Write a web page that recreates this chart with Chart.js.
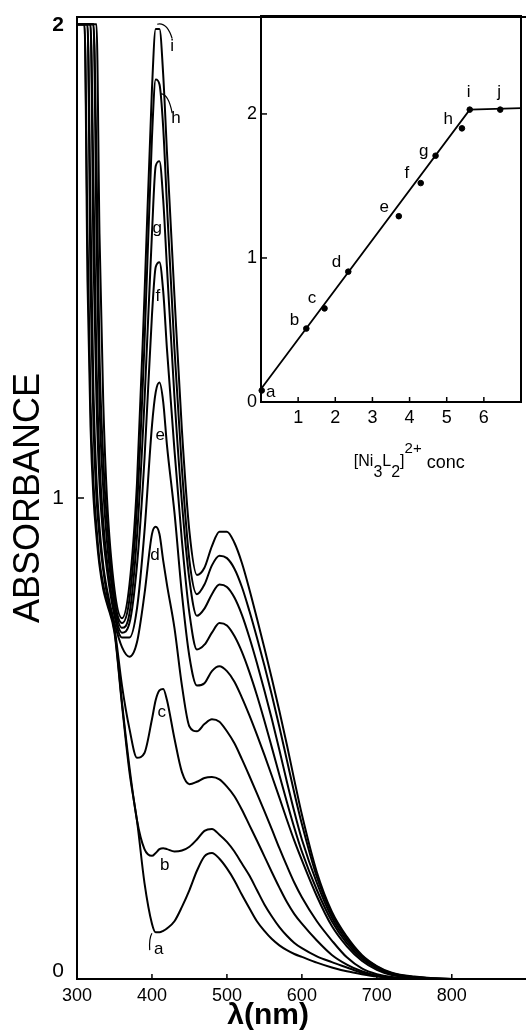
<!DOCTYPE html>
<html>
<head>
<meta charset="utf-8">
<script src="https://cdn.jsdelivr.net/npm/chart.js@4.4.0/dist/chart.umd.min.js"></script>
<style>
  html, body { margin: 0; padding: 0; background: #fff; }
  #wrap { position: relative; width: 526px; height: 1033px; overflow: hidden; }
  #main { position: absolute; left: 0; top: 0; }
  #inset { position: absolute; left: 236px; top: 0; }
</style>
</head>
<body>
<div id="wrap">
  <canvas id="main" width="526" height="1033"></canvas>
  <canvas id="inset" width="290" height="480"></canvas>
</div>
<script>
// wavelength grid (nm) shared by all spectra
const wavelengths = [300, 310, 314, 318, 322, 326, 330, 335, 340, 350,
  360, 370, 380, 390, 400, 405, 410, 415, 420, 430, 440, 450, 460, 470, 480, 490,
  500, 510, 520, 530, 540, 550, 560, 570, 580, 590, 600, 620, 640, 660, 680, 700,
  720, 750, 800, 900];

// absorbance of each spectrum, a .. i
const absA = [1.985, 1.985, 1.45, 1.15, 1.0, 0.92, 0.86, 0.81, 0.78, 0.72,
  0.57, 0.43, 0.33, 0.20, 0.115, 0.097, 0.097, 0.10, 0.105, 0.12, 0.15, 0.185, 0.225, 0.255, 0.262, 0.25,
  0.23, 0.205, 0.175, 0.147, 0.12, 0.10, 0.083, 0.07, 0.06, 0.052, 0.046, 0.034, 0.024, 0.016, 0.01, 0.005,
  0.002, 0, 0, 0];
const absB = [1.985, 1.985, 1.55, 1.2, 1.03, 0.94, 0.87, 0.82, 0.785, 0.725,
  0.575, 0.44, 0.33, 0.27, 0.256, 0.262, 0.27, 0.272, 0.27, 0.265, 0.267, 0.275, 0.29, 0.308, 0.312, 0.30,
  0.285, 0.265, 0.24, 0.215, 0.185, 0.155, 0.13, 0.108, 0.09, 0.075, 0.064, 0.047, 0.035, 0.024, 0.013, 0.006,
  0.002, 0, 0, 0];
const absC = [1.985, 1.985, 1.985, 1.45, 1.15, 1.0, 0.92, 0.85, 0.80, 0.73,
  0.61, 0.52, 0.46, 0.47, 0.54, 0.58, 0.60, 0.603, 0.58, 0.50, 0.43, 0.405, 0.41, 0.418, 0.42, 0.415,
  0.40, 0.38, 0.352, 0.32, 0.288, 0.255, 0.222, 0.19, 0.16, 0.135, 0.115, 0.08, 0.05, 0.03, 0.016, 0.007,
  0.003, 0, 0, 0];
const absD = [1.985, 1.985, 1.985, 1.6, 1.22, 1.04, 0.94, 0.86, 0.81, 0.74,
  0.69, 0.67, 0.70, 0.80, 0.925, 0.94, 0.925, 0.87, 0.82, 0.73, 0.61, 0.525, 0.515, 0.53, 0.54, 0.535,
  0.515, 0.49, 0.457, 0.422, 0.386, 0.349, 0.311, 0.272, 0.235, 0.20, 0.17, 0.12, 0.08, 0.045, 0.022, 0.01,
  0.004, 0.001, 0, 0];
const absE = [1.985, 1.985, 1.985, 1.985, 1.5, 1.2, 1.03, 0.92, 0.85, 0.755,
  0.71, 0.71, 0.77, 0.93, 1.15, 1.22, 1.24, 1.20, 1.11, 0.97, 0.80, 0.67, 0.61, 0.615, 0.64, 0.65,
  0.64, 0.618, 0.585, 0.548, 0.508, 0.466, 0.422, 0.377, 0.331, 0.287, 0.247, 0.172, 0.11, 0.068, 0.038, 0.019,
  0.008, 0.002, 0, 0];
const absF = [1.985, 1.985, 1.985, 1.985, 1.65, 1.28, 1.08, 0.95, 0.87, 0.765,
  0.72, 0.74, 0.86, 1.08, 1.38, 1.48, 1.49, 1.43, 1.31, 1.10, 0.91, 0.76, 0.685, 0.695, 0.72, 0.74,
  0.735, 0.713, 0.68, 0.638, 0.59, 0.537, 0.481, 0.424, 0.368, 0.314, 0.265, 0.185, 0.12, 0.074, 0.042, 0.022,
  0.01, 0.003, 0, 0];
const absG = [1.985, 1.985, 1.985, 1.985, 1.985, 1.55, 1.2, 1.02, 0.91, 0.78,
  0.73, 0.76, 0.92, 1.2, 1.55, 1.69, 1.70, 1.62, 1.48, 1.21, 0.99, 0.83, 0.755, 0.77, 0.80, 0.82,
  0.815, 0.793, 0.757, 0.71, 0.657, 0.6, 0.54, 0.476, 0.41, 0.347, 0.29, 0.20, 0.128, 0.08, 0.046, 0.024,
  0.011, 0.004, 0, 0];
const absH = [1.985, 1.985, 1.985, 1.985, 1.985, 1.7, 1.3, 1.08, 0.95, 0.79,
  0.74, 0.79, 0.98, 1.32, 1.75, 1.87, 1.86, 1.77, 1.61, 1.31, 1.06, 0.87, 0.80, 0.82, 0.86, 0.88,
  0.875, 0.853, 0.815, 0.765, 0.71, 0.652, 0.59, 0.524, 0.455, 0.386, 0.322, 0.212, 0.135, 0.085, 0.048, 0.026,
  0.012, 0.004, 0, 0];
const absI = [1.985, 1.985, 1.985, 1.985, 1.985, 1.985, 1.55, 1.2, 1.0, 0.81,
  0.75, 0.82, 1.03, 1.42, 1.85, 1.975, 1.975, 1.88, 1.72, 1.42, 1.14, 0.93, 0.84, 0.855, 0.90, 0.93,
  0.93, 0.907, 0.865, 0.81, 0.75, 0.688, 0.624, 0.557, 0.487, 0.413, 0.342, 0.222, 0.14, 0.088, 0.05, 0.027,
  0.013, 0.005, 0, 0];

const curveNames = ["a", "b", "c", "d", "e", "f", "g", "h", "i"];
const spectra = [absA, absB, absC, absD, absE, absF, absG, absH, absI];

// where each letter sits (nm, absorbance)
const labelNm = [409, 417, 413, 404, 411, 408, 407, 432, 427];
const labelAbs = [0.062, 0.237, 0.555, 0.88, 1.13, 1.42, 1.56, 1.79, 1.94];

const xTicks = [300, 400, 500, 600, 700, 800];
const yTicks = [0, 1, 2];
const yTickLabels = ["0", "1", "2"];

// inset: peak absorbance vs complex concentration
const insetNames = ["a", "b", "c", "d", "e", "f", "g", "h", "i", "j"];
const insetConc = [0.02, 1.22, 1.71, 2.35, 3.71, 4.30, 4.70, 5.41, 5.62, 6.44];
const insetAbs = [0.08, 0.51, 0.65, 0.905, 1.29, 1.52, 1.71, 1.90, 2.03, 2.03];
const fitConc = [0, 5.62, 7];
const fitAbs = [0.09, 2.03, 2.04];
const insetLabelConc = [0.26, 0.9, 1.37, 2.03, 3.32, 3.93, 4.38, 5.04, 5.59, 6.41];
const insetLabelAbs = [0.07, 0.57, 0.72, 0.97, 1.35, 1.59, 1.74, 1.96, 2.15, 2.15];
const insetXTicks = [1, 2, 3, 4, 5, 6];
const insetYTicks = [0, 1, 2];

const FONT = '"Liberation Sans", Arial, sans-serif';

// little hooks tying some letters to their curve (x0,y0, cx,cy, x1,y1)
const leaders = [
  [407, 1.985, 420, 1.99, 427, 1.955],
  [412, 1.84, 422, 1.84, 427, 1.80],
  [400, 0.095, 396, 0.085, 397, 0.06]
];

// keep tick label overhang from pushing the plot area around
function noOverhang(s) {
  s.paddingTop = 0;
  s.paddingBottom = 0;
  s.paddingLeft = 0;
  s.paddingRight = 0;
}

const mainDecor = {
  id: "mainDecor",
  afterDraw(chart) {
    const { ctx, chartArea, scales: { x, y } } = chart;
    ctx.save();
    ctx.strokeStyle = "#000";
    ctx.fillStyle = "#000";

    // top frame
    ctx.lineWidth = 2;
    ctx.beginPath();
    ctx.moveTo(chartArea.left, chartArea.top);
    ctx.lineTo(chartArea.right, chartArea.top);
    ctx.stroke();

    // inward tick marks
    ctx.lineWidth = 1.5;
    xTicks.forEach(v => {
      const px = x.getPixelForValue(v);
      ctx.beginPath();
      ctx.moveTo(px, chartArea.bottom);
      ctx.lineTo(px, chartArea.bottom - 5);
      ctx.stroke();
    });
    yTicks.slice(1).forEach(v => {
      const py = y.getPixelForValue(v);
      ctx.beginPath();
      ctx.moveTo(chartArea.left, py);
      ctx.lineTo(chartArea.left + 7, py);
      ctx.stroke();
    });

    // y tick labels; the end ones are nudged inside the frame like the original
    ctx.textAlign = "right";
    ctx.textBaseline = "middle";
    yTicks.forEach((v, k) => {
      let py = y.getPixelForValue(v);
      if (k === 0) py -= 8;
      if (k === yTicks.length - 1) py += 8;
      ctx.font = (k === yTicks.length - 1 ? "bold " : "") + "21px " + FONT;
      ctx.fillText(yTickLabels[k], chartArea.left - 13, py);
    });

    // hooks
    ctx.lineWidth = 1.2;
    leaders.forEach(l => {
      ctx.beginPath();
      ctx.moveTo(x.getPixelForValue(l[0]), y.getPixelForValue(l[1]));
      ctx.quadraticCurveTo(x.getPixelForValue(l[2]), y.getPixelForValue(l[3]),
        x.getPixelForValue(l[4]), y.getPixelForValue(l[5]));
      ctx.stroke();
    });

    // curve letters
    ctx.font = "17px " + FONT;
    ctx.textAlign = "center";
    ctx.textBaseline = "middle";
    curveNames.forEach((n, k) => {
      ctx.fillText(n, x.getPixelForValue(labelNm[k]), y.getPixelForValue(labelAbs[k]));
    });

    // x axis title
    ctx.font = "bold 30px " + FONT;
    ctx.fillText("λ(nm)", x.getPixelForValue(555), chartArea.bottom + 37);
    ctx.restore();
  }
};

new Chart(document.getElementById("main"), {
  type: "line",
  data: {
    datasets: spectra.map((vals, k) => ({
      label: curveNames[k],
      data: wavelengths.map((w, j) => ({ x: w, y: vals[j] })),
      borderColor: "#000",
      borderWidth: 2,
      pointRadius: 0,
      fill: false,
      cubicInterpolationMode: "monotone"
    }))
  },
  options: {
    responsive: false,
    animation: false,
    layout: { padding: { top: 17, right: 0, left: 0, bottom: 0 } },
    plugins: { legend: { display: false }, tooltip: { enabled: false } },
    scales: {
      x: {
        type: "linear",
        min: 300,
        max: 899,
        afterBuildTicks: s => { s.ticks = xTicks.map(v => ({ value: v })); },
        afterFit: s => { s.height = 54; noOverhang(s); },
        grid: { drawOnChartArea: false, drawTicks: false },
        border: { color: "#000", width: 2 },
        ticks: { padding: 6, color: "#000", font: { family: FONT, size: 18 } }
      },
      y: {
        min: 0,
        max: 2,
        afterBuildTicks: s => { s.ticks = yTicks.map(v => ({ value: v })); },
        afterFit: s => { s.width = 77; noOverhang(s); },
        grid: { drawOnChartArea: false, drawTicks: false },
        border: { color: "#000", width: 2 },
        ticks: { display: false },
        title: {
          display: true,
          text: "ABSORBANCE",
          color: "#000",
          padding: { top: 7, bottom: 0 },
          font: { family: FONT, size: 36 }
        }
      }
    }
  },
  plugins: [mainDecor]
});

const insetDecor = {
  id: "insetDecor",
  afterDraw(chart) {
    const { ctx, chartArea, scales: { x, y } } = chart;
    ctx.save();
    ctx.strokeStyle = "#000";
    ctx.fillStyle = "#000";

    // top and right frame
    ctx.lineWidth = 2;
    ctx.beginPath();
    ctx.moveTo(chartArea.left, chartArea.top);
    ctx.lineTo(chartArea.right, chartArea.top);
    ctx.lineTo(chartArea.right, chartArea.bottom);
    ctx.stroke();

    // inward ticks
    ctx.lineWidth = 1.5;
    insetXTicks.forEach(v => {
      const px = x.getPixelForValue(v);
      ctx.beginPath();
      ctx.moveTo(px, chartArea.bottom);
      ctx.lineTo(px, chartArea.bottom - 5);
      ctx.stroke();
    });
    insetYTicks.slice(1).forEach(v => {
      const py = y.getPixelForValue(v);
      ctx.beginPath();
      ctx.moveTo(chartArea.left, py);
      ctx.lineTo(chartArea.left + 6, py);
      ctx.stroke();
    });

    // point letters
    ctx.font = "17px " + FONT;
    ctx.textAlign = "center";
    ctx.textBaseline = "middle";
    insetNames.forEach((n, k) => {
      ctx.fillText(n, x.getPixelForValue(insetLabelConc[k]), y.getPixelForValue(insetLabelAbs[k]));
    });

    // axis title [Ni3L2]2+ conc, drawn in runs for sub/superscripts
    ctx.textAlign = "left";
    ctx.textBaseline = "alphabetic";
    const base = chartArea.bottom + 64;
    let cx = x.getPixelForValue(2.5);
    const runs = [
      ["[Ni", 16, 0], ["3", 16, 11], ["L", 16, 0], ["2", 16, 11], ["]", 16, 0],
      ["2+", 15, -13], [" conc", 18, 2]
    ];
    runs.forEach(r => {
      ctx.font = r[1] + "px " + FONT;
      ctx.fillText(r[0], cx, base + r[2]);
      cx += ctx.measureText(r[0]).width;
    });
    ctx.restore();
  }
};

new Chart(document.getElementById("inset"), {
  type: "scatter",
  data: {
    datasets: [
      {
        type: "line",
        data: fitConc.map((c, k) => ({ x: c, y: fitAbs[k] })),
        borderColor: "#000",
        borderWidth: 1.8,
        pointRadius: 0,
        fill: false
      },
      {
        data: insetConc.map((c, k) => ({ x: c, y: insetAbs[k] })),
        pointRadius: 2.8,
        backgroundColor: "#000",
        borderColor: "#000",
        clip: 6
      }
    ]
  },
  options: {
    responsive: false,
    animation: false,
    layout: { padding: { top: 16, right: 2, left: 0, bottom: 0 } },
    plugins: { legend: { display: false }, tooltip: { enabled: false } },
    scales: {
      x: {
        type: "linear",
        min: 0,
        max: 7,
        afterBuildTicks: s => { s.ticks = insetXTicks.map(v => ({ value: v })); },
        afterFit: s => { s.height = 78; noOverhang(s); },
        grid: { drawOnChartArea: false, drawTicks: false },
        border: { color: "#000", width: 2 },
        ticks: { padding: 5, color: "#000", font: { family: FONT, size: 18 } }
      },
      y: {
        min: 0,
        max: 2.68,
        afterBuildTicks: s => { s.ticks = insetYTicks.map(v => ({ value: v })); },
        afterFit: s => { s.width = 25; noOverhang(s); },
        grid: { drawOnChartArea: false, drawTicks: false },
        border: { color: "#000", width: 2 },
        ticks: { padding: 4, color: "#000", font: { family: FONT, size: 18 } }
      }
    }
  },
  plugins: [insetDecor]
});
</script>
</body>
</html>
